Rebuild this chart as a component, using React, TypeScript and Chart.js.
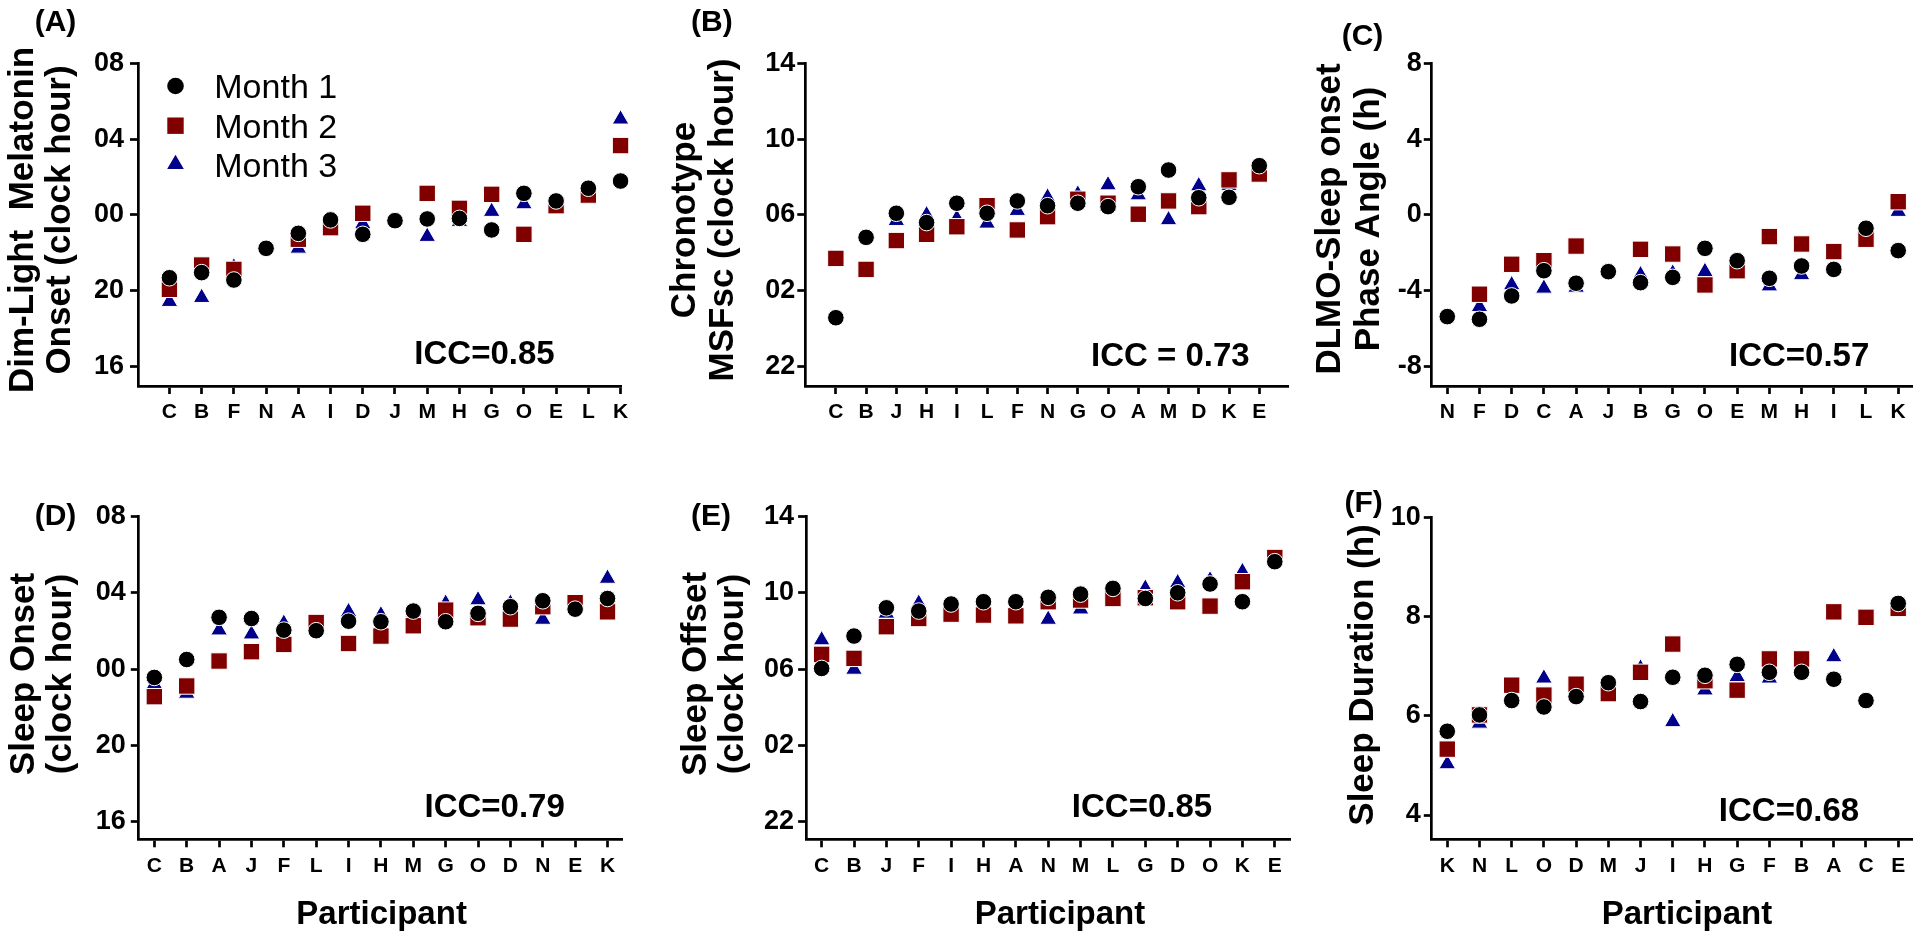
import React, { useEffect, useRef } from 'react';
import { Chart, registerables } from 'chart.js';

Chart.register(...registerables);

const W = 1920;
const H = 938;
const FONT = "'Liberation Sans', Arial, Helvetica, sans-serif";
const COLOR_M1 = '#000000';
const COLOR_M2 = '#800000';
const COLOR_M3 = '#00008B';
const SERIES_NAMES = ['Month 1', 'Month 2', 'Month 3'];

// ---------- DATA (clock hours are stored unwrapped: values past midnight carry +24) ----------
// (A) Dim-light melatonin onset
const catsA = ['C', 'B', 'F', 'N', 'A', 'I', 'D', 'J', 'M', 'H', 'G', 'O', 'E', 'L', 'K'];
const dlmoM1 = [20.69, 20.96, 20.57, 22.24, 23.03, 23.74, 22.98, 23.7, 23.79, 23.82, 23.21, 25.14, 24.74, 25.41, 25.79];
const dlmoM2 = [20.08, 21.36, 21.13, null, 22.72, 23.33, 24.09, null, 25.14, 24.35, 25.09, 22.98, 24.49, 25.05, 27.66];
const dlmoM3 = [19.43, 19.64, 21.25, null, 22.24, 23.55, 23.53, null, 22.86, 23.65, 24.18, 24.58, 24.6, 24.85, 29.05];

// (B) Chronotype MSFsc
const catsB = ['C', 'B', 'J', 'H', 'I', 'L', 'F', 'N', 'G', 'O', 'A', 'M', 'D', 'K', 'E'];
const msfM1 = [24.58, 28.82, 30.09, 29.6, 30.62, 30.09, 30.74, 30.49, 30.62, 30.44, 31.49, 32.37, 30.91, 30.93, 32.6];
const msfM2 = [27.71, 27.13, 28.65, 28.98, 29.38, 30.49, 29.21, 29.91, 30.83, 30.62, 30.04, 30.74, 30.44, 31.85, 32.16];
const msfM3 = [null, 26.95, 29.7, 30.0, 29.82, 29.56, 30.23, 30.93, 31.09, 31.58, 31.05, 29.74, 31.53, 31.55, 32.3];

// (C) DLMO - sleep onset phase angle (h)
const catsC = ['N', 'F', 'D', 'C', 'A', 'J', 'B', 'G', 'O', 'E', 'M', 'H', 'I', 'L', 'K'];
const phaseM1 = [-5.36, -5.5, -4.27, -2.94, -3.6, -2.99, -3.57, -3.29, -1.76, -2.41, -3.34, -2.69, -2.87, -0.7, -1.88];
const phaseM2 = [null, -4.18, -2.6, -2.41, -1.64, null, -1.81, -2.06, -3.69, -2.94, -1.14, -1.53, -1.93, -1.28, 0.7];
const phaseM3 = [null, -4.84, -3.69, -3.87, -3.82, null, -3.16, -3.08, -2.99, -2.75, -3.75, -3.16, null, -0.97, 0.18];

// (D) Sleep onset
const catsD = ['C', 'B', 'A', 'J', 'F', 'L', 'I', 'H', 'M', 'G', 'O', 'D', 'N', 'E', 'K'];
const onsetM1 = [23.57, 24.51, 26.72, 26.66, 26.05, 26.02, 26.52, 26.49, 27.05, 26.49, 26.93, 27.28, 27.59, 27.15, 27.71];
const onsetM2 = [22.56, 23.12, 24.43, 24.92, 25.3, 26.45, 25.35, 25.74, 26.28, 27.1, 26.7, 26.63, 27.28, 27.49, 27.01];
const onsetM3 = [23.22, 22.73, 26.05, 25.84, 26.4, 26.1, 27.01, 26.84, 27.0, 27.45, 27.63, 27.45, 26.61, 27.45, 28.76];

// (E) Sleep offset
const catsE = ['C', 'B', 'J', 'F', 'I', 'H', 'A', 'N', 'M', 'L', 'G', 'D', 'O', 'K', 'E'];
const offsetM1 = [30.04, 31.74, 33.22, 33.05, 33.42, 33.54, 33.54, 33.77, 33.94, 34.24, 33.71, 34.01, 34.47, 33.54, 35.64];
const offsetM2 = [30.78, 30.57, 32.23, 32.66, 32.89, 32.84, 32.8, 33.54, 33.63, 33.71, 33.75, 33.54, 33.31, 34.59, 35.86];
const offsetM3 = [31.53, 29.99, 32.93, 33.45, 32.95, 33.2, 33.2, 32.61, 33.15, 34.0, 34.24, 34.53, 34.67, 35.11, 35.72];

// (F) Sleep duration (h)
const catsF = ['K', 'N', 'L', 'O', 'D', 'M', 'J', 'I', 'H', 'G', 'F', 'B', 'A', 'C', 'E'];
const durM1 = [5.69, 6.02, 6.31, 6.18, 6.39, 6.67, 6.29, 6.78, 6.82, 7.04, 6.88, 6.88, 6.74, 6.31, 8.27];
const durM2 = [5.33, 6.02, 6.62, 6.42, 6.64, 6.45, 6.88, 7.45, 6.71, 6.52, 7.15, 7.15, 8.1, 7.99, 8.17];
const durM3 = [5.03, 5.85, 6.4, 6.76, 6.5, 6.6, 6.96, 5.88, 6.52, 6.79, 6.76, 7.0, 7.19, 7.93, 8.1];

// tick values
const ticksNight = [16, 20, 24, 28, 32];
const ticksDay = [22, 26, 30, 34, 38];
const ticksPhase = [-8, -4, 0, 4, 8];
const ticksDur = [4, 6, 8, 10];

const clockFmt = (v: number) => String(((Math.round(v) % 24) + 24) % 24).padStart(2, '0');
const numFmt = (v: number) => String(v);

type Txt = { t: string; x: number; y: number; size: number; bold?: boolean; align?: CanvasTextAlign; rot?: boolean };

interface Panel {
  cats: string[];
  series: (number | null)[][];
  axisX: number;
  rightX: number;
  topY: number;
  bottomY: number;
  xMin: number;
  xMax: number;
  yMin: number;
  yMax: number;
  yTicks: number[];
  fmt: (v: number) => string;
  tickPad: number;
  texts: Txt[];
  legend?: boolean;
}

const TITLE = 35;
const ICC = 33;
const PLABEL = 30;

const panels: Panel[] = [
  {
    cats: catsA, series: [dlmoM1, dlmoM2, dlmoM3],
    axisX: 138, rightX: 621.2, topY: 63.3, bottomY: 386,
    xMin: -0.975, xMax: 14.02, yMin: 14.98, yMax: 32, yTicks: ticksNight, fmt: clockFmt, tickPad: 6,
    legend: true,
    texts: [
      { t: '(A)', x: 34.7, y: 31, size: PLABEL },
      { t: 'Dim-Light  Melatonin', x: 33, y: 220, size: TITLE, rot: true },
      { t: 'Onset (clock hour)', x: 70, y: 220, size: TITLE, rot: true },
      { t: 'ICC=0.85', x: 414.3, y: 364, size: ICC },
    ],
  },
  {
    cats: catsB, series: [msfM1, msfM2, msfM3],
    axisX: 805.3, rightX: 1288, topY: 63.3, bottomY: 386,
    xMin: -1.01, xMax: 14.95, yMin: 20.98, yMax: 38, yTicks: ticksDay, fmt: clockFmt, tickPad: 2,
    texts: [
      { t: '(B)', x: 691, y: 31, size: PLABEL },
      { t: 'Chronotype', x: 695, y: 220, size: TITLE, rot: true },
      { t: 'MSFsc (clock hour)', x: 733, y: 220, size: TITLE, rot: true },
      { t: 'ICC = 0.73', x: 1091, y: 366, size: ICC },
    ],
  },
  {
    cats: catsC, series: [phaseM1, phaseM2, phaseM3],
    axisX: 1431.8, rightX: 1912.7, topY: 63.3, bottomY: 386,
    xMin: -0.48, xMax: 14.45, yMin: -9.02, yMax: 8, yTicks: ticksPhase, fmt: numFmt, tickPad: 2,
    texts: [
      { t: '(C)', x: 1341.7, y: 45, size: PLABEL },
      { t: 'DLMO-Sleep onset', x: 1340, y: 219, size: TITLE, rot: true },
      { t: 'Phase Angle (h)', x: 1379, y: 219, size: TITLE, rot: true },
      { t: 'ICC=0.57', x: 1729, y: 366, size: ICC },
    ],
  },
  {
    cats: catsD, series: [onsetM1, onsetM2, onsetM3],
    axisX: 138.8, rightX: 622.4, topY: 516.7, bottomY: 839.3,
    xMin: -0.48, xMax: 14.46, yMin: 15.08, yMax: 32, yTicks: ticksNight, fmt: clockFmt, tickPad: 5,
    texts: [
      { t: '(D)', x: 34.7, y: 525, size: PLABEL },
      { t: 'Sleep Onset', x: 33.5, y: 674, size: TITLE, rot: true },
      { t: '(clock hour)', x: 71, y: 674, size: TITLE, rot: true },
      { t: 'ICC=0.79', x: 424.5, y: 817, size: ICC },
      { t: 'Participant', x: 381.6, y: 924, size: 33, align: 'center' },
    ],
  },
  {
    cats: catsE, series: [offsetM1, offsetM2, offsetM3],
    axisX: 806.1, rightX: 1290, topY: 516.7, bottomY: 839.3,
    xMin: -0.48, xMax: 14.47, yMin: 21.08, yMax: 38, yTicks: ticksDay, fmt: clockFmt, tickPad: 4,
    texts: [
      { t: '(E)', x: 691, y: 525, size: PLABEL },
      { t: 'Sleep Offset', x: 705.5, y: 674, size: TITLE, rot: true },
      { t: '(clock hour)', x: 743, y: 674, size: TITLE, rot: true },
      { t: 'ICC=0.85', x: 1071.8, y: 817, size: ICC },
      { t: 'Participant', x: 1060, y: 924, size: 33, align: 'center' },
    ],
  },
  {
    cats: catsF, series: [durM1, durM2, durM3],
    axisX: 1431.8, rightX: 1912.7, topY: 517.7, bottomY: 839.3,
    xMin: -0.48, xMax: 14.45, yMin: 3.51, yMax: 10, yTicks: ticksDur, fmt: numFmt, tickPad: 3,
    texts: [
      { t: '(F)', x: 1344.5, y: 512, size: PLABEL },
      { t: 'Sleep Duration (h)', x: 1373, y: 675, size: TITLE, rot: true },
      { t: 'ICC=0.68', x: 1718.8, y: 821, size: ICC },
      { t: 'Participant', x: 1687, y: 924, size: 33, align: 'center' },
    ],
  },
];

const Y_AXIS_W = 100;
const X_AXIS_H = 60;
const AXIS_LW = 2.7;
const TICK_LEN = 8;

const STYLES = [
  { pointStyle: 'circle', radius: 8.3, color: COLOR_M1 },
  { pointStyle: 'rect', radius: 11.6, color: COLOR_M2 },
  { pointStyle: 'triangle', radius: 9.6, color: COLOR_M3 },
];

function drawMarker(ctx: CanvasRenderingContext2D, style: string, x: number, y: number, color: string) {
  ctx.save();
  ctx.fillStyle = color;
  ctx.beginPath();
  if (style === 'circle') {
    ctx.arc(x, y, 8.3, 0, Math.PI * 2);
  } else if (style === 'rect') {
    const s = 11.6 * Math.SQRT1_2;
    ctx.rect(x - s, y - s, 2 * s, 2 * s);
  } else {
    const r = 9.6;
    for (let k = 0; k < 3; k++) {
      const a = (k * 2 * Math.PI) / 3;
      const px = x + Math.sin(a) * r;
      const py = y - Math.cos(a) * r;
      if (k === 0) ctx.moveTo(px, py);
      else ctx.lineTo(px, py);
    }
    ctx.closePath();
  }
  ctx.fill();
  ctx.restore();
}

function makeConfig(p: Panel): any {
  const datasets = p.series.map((vals, si) => ({
    label: SERIES_NAMES[si],
    data: vals
      .map((v, i) => (v === null ? null : { x: i, y: v }))
      .filter((d) => d !== null),
    pointStyle: STYLES[si].pointStyle,
    pointRadius: STYLES[si].radius,
    pointHoverRadius: STYLES[si].radius,
    pointBackgroundColor: STYLES[si].color,
    pointBorderColor: '#ffffff',
    pointBorderWidth: 1,
    showLine: false,
    clip: false,
  }));

  const textPlugin = {
    id: 'panelText',
    afterDraw(chart: any) {
      const ctx: CanvasRenderingContext2D = chart.ctx;
      for (const t of p.texts) {
        ctx.save();
        ctx.fillStyle = '#000';
        ctx.font = `${t.bold === false ? 'normal' : 'bold'} ${t.size}px ${FONT}`;
        ctx.textBaseline = 'alphabetic';
        if (t.rot) {
          ctx.translate(t.x, t.y);
          ctx.rotate(-Math.PI / 2);
          ctx.textAlign = 'center';
          ctx.fillText(t.t, 0, 0);
        } else {
          ctx.textAlign = t.align ?? 'left';
          ctx.fillText(t.t, t.x, t.y);
        }
        ctx.restore();
      }
      if (p.legend) {
        const rows = [86, 125.7, 164.3];
        rows.forEach((ry, i) => {
          drawMarker(ctx, STYLES[i].pointStyle, 175.5, ry, STYLES[i].color);
          ctx.save();
          ctx.fillStyle = '#000';
          ctx.font = `normal 34px ${FONT}`;
          ctx.textAlign = 'left';
          ctx.textBaseline = 'alphabetic';
          ctx.fillText(SERIES_NAMES[i], 214.3, ry + 12.3);
          ctx.restore();
        });
      }
    },
  };

  return {
    type: 'scatter',
    data: { datasets },
    plugins: [textPlugin],
    options: {
      animation: false,
      responsive: false,
      devicePixelRatio: 1,
      events: [],
      layout: {
        autoPadding: false,
        padding: {
          left: p.axisX - Y_AXIS_W,
          right: W - p.rightX,
          top: p.topY,
          bottom: H - X_AXIS_H - p.bottomY,
        },
      },
      plugins: { legend: { display: false }, tooltip: { enabled: false }, title: { display: false } },
      scales: {
        x: {
          type: 'linear',
          min: p.xMin,
          max: p.xMax,
          afterBuildTicks: (scale: any) => {
            scale.ticks = p.cats.map((_, i) => ({ value: i }));
          },
          afterFit: (scale: any) => {
            scale.height = X_AXIS_H;
          },
          grid: {
            display: true,
            drawOnChartArea: false,
            drawTicks: true,
            tickLength: TICK_LEN,
            tickWidth: AXIS_LW,
            tickColor: '#000',
          },
          border: { display: true, color: '#000', width: AXIS_LW },
          ticks: {
            autoSkip: false,
            maxRotation: 0,
            minRotation: 0,
            padding: 6,
            color: '#000',
            font: { family: FONT, size: 21, weight: 'bold' },
            callback: (v: any) => p.cats[Math.round(Number(v))] ?? '',
          },
        },
        y: {
          type: 'linear',
          min: p.yMin,
          max: p.yMax,
          afterBuildTicks: (scale: any) => {
            scale.ticks = p.yTicks.map((v) => ({ value: v }));
          },
          afterFit: (scale: any) => {
            scale.width = Y_AXIS_W;
          },
          grid: {
            display: true,
            drawOnChartArea: false,
            drawTicks: true,
            tickLength: TICK_LEN,
            tickWidth: AXIS_LW,
            tickColor: '#000',
          },
          border: { display: true, color: '#000', width: AXIS_LW },
          ticks: {
            padding: p.tickPad,
            color: '#000',
            font: { family: FONT, size: 27, weight: 'bold' },
            callback: (v: any) => p.fmt(Number(v)),
          },
        },
      },
    },
  };
}

function PanelCanvas({ panel }: { panel: Panel }) {
  const ref = useRef<HTMLCanvasElement | null>(null);
  useEffect(() => {
    if (!ref.current) return;
    const chart = new Chart(ref.current, makeConfig(panel));
    return () => chart.destroy();
  }, [panel]);
  return (
    <canvas
      ref={ref}
      width={W}
      height={H}
      style={{ position: 'absolute', left: 0, top: 0, width: W, height: H }}
    />
  );
}

export default function App() {
  return (
    <div
      style={{
        position: 'fixed',
        left: 0,
        top: 0,
        width: W,
        height: H,
        background: '#ffffff',
        overflow: 'hidden',
      }}
    >
      {panels.map((p, i) => (
        <PanelCanvas key={i} panel={p} />
      ))}
    </div>
  );
}
